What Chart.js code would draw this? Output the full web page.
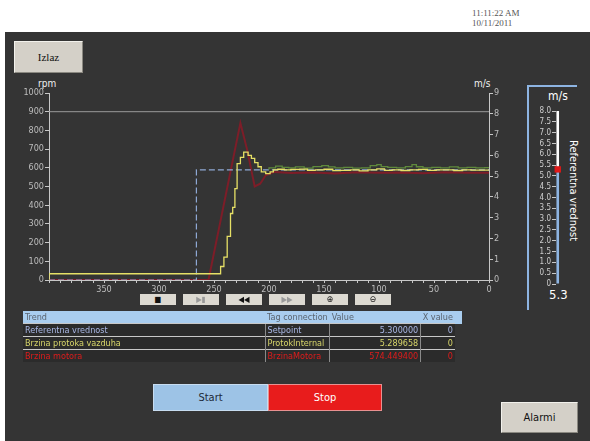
<!DOCTYPE html>
<html>
<head>
<meta charset="utf-8">
<script src="https://cdn.jsdelivr.net/npm/chart.js@4.4.1/dist/chart.umd.min.js"></script>
<style>
  html, body { margin: 0; padding: 0; background: #fff; }
  body { width: 590px; height: 441px; position: relative; overflow: hidden; font-family: "DejaVu Sans Condensed", "DejaVu Sans", sans-serif; }
  .abs { position: absolute; }
  .clock { left: 472px; top: 8px; font: 9px "Liberation Serif", serif; color: #555; line-height: 10px; }
  .panel { left: 5px; top: 32px; width: 585px; height: 409px; background: #343434; }
  .btn { background: #d4d0c8; border: 1px solid #f2f1ec; border-right-color: #8a8880; border-bottom-color: #8a8880; box-sizing: border-box; display: flex; align-items: center; justify-content: center; color: #111; font-size: 11px; }
  .tool { width: 36px; height: 11px; top: 294px; background: #dcd9d1; font-size: 8px; line-height: 9px; border: none; }
  .label { color: #f0f0f0; font-size: 10px; }
  table { border-collapse: collapse; font-size: 9px; table-layout: fixed; }
  td { padding: 0 2px; height: 12px; line-height: 11px; white-space: nowrap; overflow: hidden; }
  tr.head td { background: #a9cdef; color: #5a6470; }
  tr.row td { background: #2b2b2b; border-top: 1px solid #c8c8c8; border-left: 1px solid #8a8a8a; }
  tr.row td:first-child { border-left: none; }
  td.num { text-align: right; }
  .startStop { top: 384px; height: 27px; font-size: 11px; display: flex; align-items: center; justify-content: center; box-sizing: border-box; }
</style>
</head>
<body>
<div class="abs clock">11:11:22 AM<br>10/11/2011</div>
<div class="abs panel"></div>

<div class="abs btn" style="left:14px; top:41px; width:69px; height:32px; font-family:'Liberation Serif',serif; font-size:11px;">Izlaz</div>

<div class="abs label" style="left:38px; top:78px;">rpm</div>
<div class="abs label" style="left:474px; top:78px;">m/s</div>

<div class="abs" style="left:10px; top:78px; width:500px; height:220px;">
  <canvas id="trend" width="500" height="220"></canvas>
</div>

<div class="abs tool btn" style="left:140px;">&#9632;</div>
<div class="abs tool btn" style="left:183px; color:#999;">&#9654;&#9646;</div>
<div class="abs tool btn" style="left:226px;">&#9664;&#9664;</div>
<div class="abs tool btn" style="left:269px; color:#999;">&#9654;&#9654;</div>
<div class="abs tool btn" style="left:312px; font-size:9px;">&#8853;</div>
<div class="abs tool btn" style="left:355px; font-size:9px;">&#8854;</div>

<div class="abs" style="left:23px; top:311px; background:#2b2b2b;">
  <table id="trendTable">
    <colgroup><col style="width:242px"><col style="width:56px"><col style="width:91px"><col style="width:29px"><col style="width:7px"></colgroup>
  </table>
</div>

<div class="abs startStop" style="left:153px; width:115px; background:#9dc3e6; color:#1e2a38; border:1px solid #c7dcf0;">Start</div>
<div class="abs startStop" style="left:268px; width:114px; background:#e81c1c; color:#fff; border:1px solid #e89090;">Stop</div>
<div class="abs btn" style="left:501px; top:402px; width:77px; height:31px;">Alarmi</div>

<!-- referentna vrednost gauge -->
<div class="abs" style="left:527px; top:85px; width:2px; height:225px; background:#8db4e2;"></div>
<div class="abs" style="left:527px; top:85px; width:50px; height:2px; background:#8db4e2;"></div>
<div class="abs" style="left:548px; top:89px; color:#fff; font-size:12px;">m/s</div>
<div class="abs" style="left:549px; top:287px; color:#fff; font-size:13px;">5.3</div>
<div class="abs" style="left:567px; top:140px; color:#fff; font-size:11px; writing-mode:vertical-rl;">Referentna vrednost</div>
<div class="abs" style="left:534px; top:100px; width:30px; height:190px;">
  <canvas id="gauge" width="30" height="190"></canvas>
</div>

<script>
// time axis runs from 400 (left) down to 0 (right)
const timeMax = 400;
const rpmMax = 1000;
const speedMax = 9;
const upperLimit = 900;

// Referentna vrednost (m/s, right axis)
const setpointTime  = [400, 266, 266, 0];
const setpointSpeed = [0, 0, 5.3, 5.3];

// Brzina protoka vazduha (m/s, right axis)
const airflowTime  = [400, 244, 241, 238, 235, 233, 231, 229, 226, 223, 219, 216, 213, 210, 207, 203, 199, 196, 192, 186, 180, 172, 165, 158, 150, 142, 135, 126, 118, 110, 102, 95, 88, 80, 72, 64, 56, 48, 40, 32, 24, 16, 8, 0];
const airflowSpeed = [0, 0.3, 0.65, 1.1, 2.1, 3.2, 3.5, 4.4, 5.6, 5.9, 6.15, 6.0, 5.85, 5.65, 5.45, 5.2, 5.12, 5.2, 5.3, 5.33, 5.3, 5.32, 5.34, 5.28, 5.3, 5.33, 5.26, 5.28, 5.3, 5.25, 5.3, 5.35, 5.28, 5.3, 5.27, 5.3, 5.32, 5.28, 5.3, 5.3, 5.27, 5.3, 5.29, 5.29];

// fourth trend (green, m/s)
const trend4Time  = [200, 194, 188, 182, 176, 168, 160, 152, 146, 140, 132, 124, 116, 108, 102, 98, 92, 84, 76, 70, 66, 60, 52, 44, 36, 28, 20, 12, 4, 0];
const trend4Speed = [5.32, 5.4, 5.48, 5.42, 5.4, 5.44, 5.38, 5.46, 5.5, 5.44, 5.4, 5.42, 5.38, 5.4, 5.5, 5.55, 5.46, 5.42, 5.4, 5.46, 5.55, 5.45, 5.4, 5.42, 5.4, 5.44, 5.4, 5.42, 5.4, 5.41];

// Brzina motora (rpm, left axis)
const motorTime = [400, 255, 226, 220, 213, 208, 203, 195, 180, 160, 140, 120, 100, 80, 60, 40, 20, 0];
const motorRpm  = [0, 0, 840, 700, 500, 515, 560, 578, 572, 575, 570, 576, 573, 575, 571, 576, 574, 574];

// table
const trendNames   = ['Referentna vrednost', 'Brzina protoka vazduha', 'Brzina motora'];
const tagNames     = ['Setpoint', 'ProtokInternal', 'BrzinaMotora'];
const trendValues  = ['5.300000', '5.289658', '574.449400'];
const trendXValues = ['0', '0', '0'];
const trendColors  = ['#aab8e6', '#d8d66a', '#e01c1c'];

// gauge
const gaugeMax = 8;
const gaugeValue = 5.3;

function points(xs, ys) {
    return xs.map((x, i) => ({ x: x, y: ys[i] }));
}

const axisColor = '#c8c8c8';
const tickFont = { family: 'DejaVu Sans Condensed', size: 9 };

new Chart(document.getElementById('trend').getContext('2d'), {
    type: 'line',
    data: {
        datasets: [
            {
                data: points(airflowTime, airflowSpeed),
                borderColor: '#e6e066',
                borderWidth: 1.3,
                stepped: 'after',
                yAxisID: 'y1',
                order: 0
            },
            {
                data: points(trend4Time, trend4Speed),
                borderColor: '#5f8a3c',
                borderWidth: 1.3,
                stepped: 'after',
                yAxisID: 'y1',
                order: 1
            },
            {
                data: points(setpointTime, setpointSpeed),
                borderColor: '#8ea8d4',
                borderWidth: 1.2,
                borderDash: [6, 3],
                yAxisID: 'y1',
                order: 2
            },
            {
                data: points(motorTime, motorRpm),
                borderColor: '#7d1d28',
                borderWidth: 2,
                yAxisID: 'y',
                order: 3
            },
            {
                data: [{ x: timeMax, y: upperLimit }, { x: 0, y: upperLimit }],
                borderColor: '#9a9a9a',
                borderWidth: 1,
                yAxisID: 'y',
                order: 4
            }
        ]
    },
    options: {
        responsive: false,
        animation: false,
        layout: { padding: { top: 15 } },
        elements: { point: { radius: 0 } },
        plugins: { legend: { display: false }, tooltip: { enabled: false } },
        scales: {
            x: {
                type: 'linear',
                min: 0,
                max: timeMax,
                reverse: true,
                afterFit: scale => { scale.height = 18; },
                border: { color: axisColor },
                grid: { drawOnChartArea: false, tickLength: 3, color: axisColor },
                ticks: {
                    stepSize: 10,
                    autoSkip: false,
                    maxRotation: 0,
                    padding: 1,
                    color: '#bdbdbd',
                    font: tickFont,
                    callback: v => (v % 50 === 0 && v !== timeMax) ? String(v) : ''
                }
            },
            y: {
                position: 'left',
                min: 0,
                max: rpmMax,
                afterFit: scale => { scale.width = 39; },
                border: { color: axisColor },
                grid: { drawOnChartArea: false, tickLength: 4, color: axisColor },
                ticks: { stepSize: 100, padding: 1, color: '#bdbdbd', font: tickFont, callback: v => String(v) }
            },
            y1: {
                position: 'right',
                min: 0,
                max: speedMax,
                afterFit: scale => { scale.width = 21; },
                border: { color: axisColor },
                grid: { drawOnChartArea: false, tickLength: 4, color: axisColor },
                ticks: { stepSize: 1, padding: 1, color: '#bdbdbd', font: tickFont }
            }
        }
    }
});

new Chart(document.getElementById('gauge').getContext('2d'), {
    data: {
        labels: [''],
        datasets: [
            {
                type: 'line',
                data: [gaugeValue],
                showLine: false,
                pointStyle: 'rect',
                pointRadius: 4.5,
                pointBackgroundColor: '#e01818',
                pointBorderWidth: 0,
                clip: false,
                order: 0
            },
            {
                type: 'bar',
                data: [gaugeValue],
                backgroundColor: '#8db4e2',
                barPercentage: 1,
                categoryPercentage: 0.75,
                order: 1
            },
            {
                type: 'bar',
                data: [gaugeMax - gaugeValue],
                backgroundColor: '#ffffff',
                barPercentage: 1,
                categoryPercentage: 0.75,
                order: 2
            }
        ]
    },
    options: {
        responsive: false,
        animation: false,
        layout: { padding: { top: 11, bottom: 6 } },
        plugins: { legend: { display: false }, tooltip: { enabled: false } },
        scales: {
            x: { display: false, stacked: true },
            y: {
                stacked: true,
                min: 0,
                max: gaugeMax,
                afterFit: scale => { scale.width = 22; },
                border: { display: false },
                grid: { drawOnChartArea: false, tickLength: 4, color: '#c8c8c8' },
                ticks: {
                    stepSize: 0.5,
                    autoSkip: false,
                    padding: 1,
                    color: '#cfcfcf',
                    font: { family: 'DejaVu Sans Condensed', size: 8 },
                    callback: v => v === 0 ? '0' : v.toFixed(1)
                }
            }
        }
    }
});

// fill the trend table from the arrays above
const table = document.getElementById('trendTable');
const head = table.insertRow();
head.className = 'head';
['Trend', 'Tag connection', 'Value', 'X value', ''].forEach(t => {
    head.insertCell().textContent = t;
});
trendNames.forEach((name, i) => {
    const row = table.insertRow();
    row.className = 'row';
    row.style.color = trendColors[i];
    [name, tagNames[i], trendValues[i], trendXValues[i]].forEach((t, j) => {
        const cell = row.insertCell();
        cell.textContent = t;
        if (j >= 2) cell.className = 'num';
    });
    const pad = row.insertCell();
    pad.style.background = '#343434';
    pad.style.border = 'none';
});
</script>
</body>
</html>
